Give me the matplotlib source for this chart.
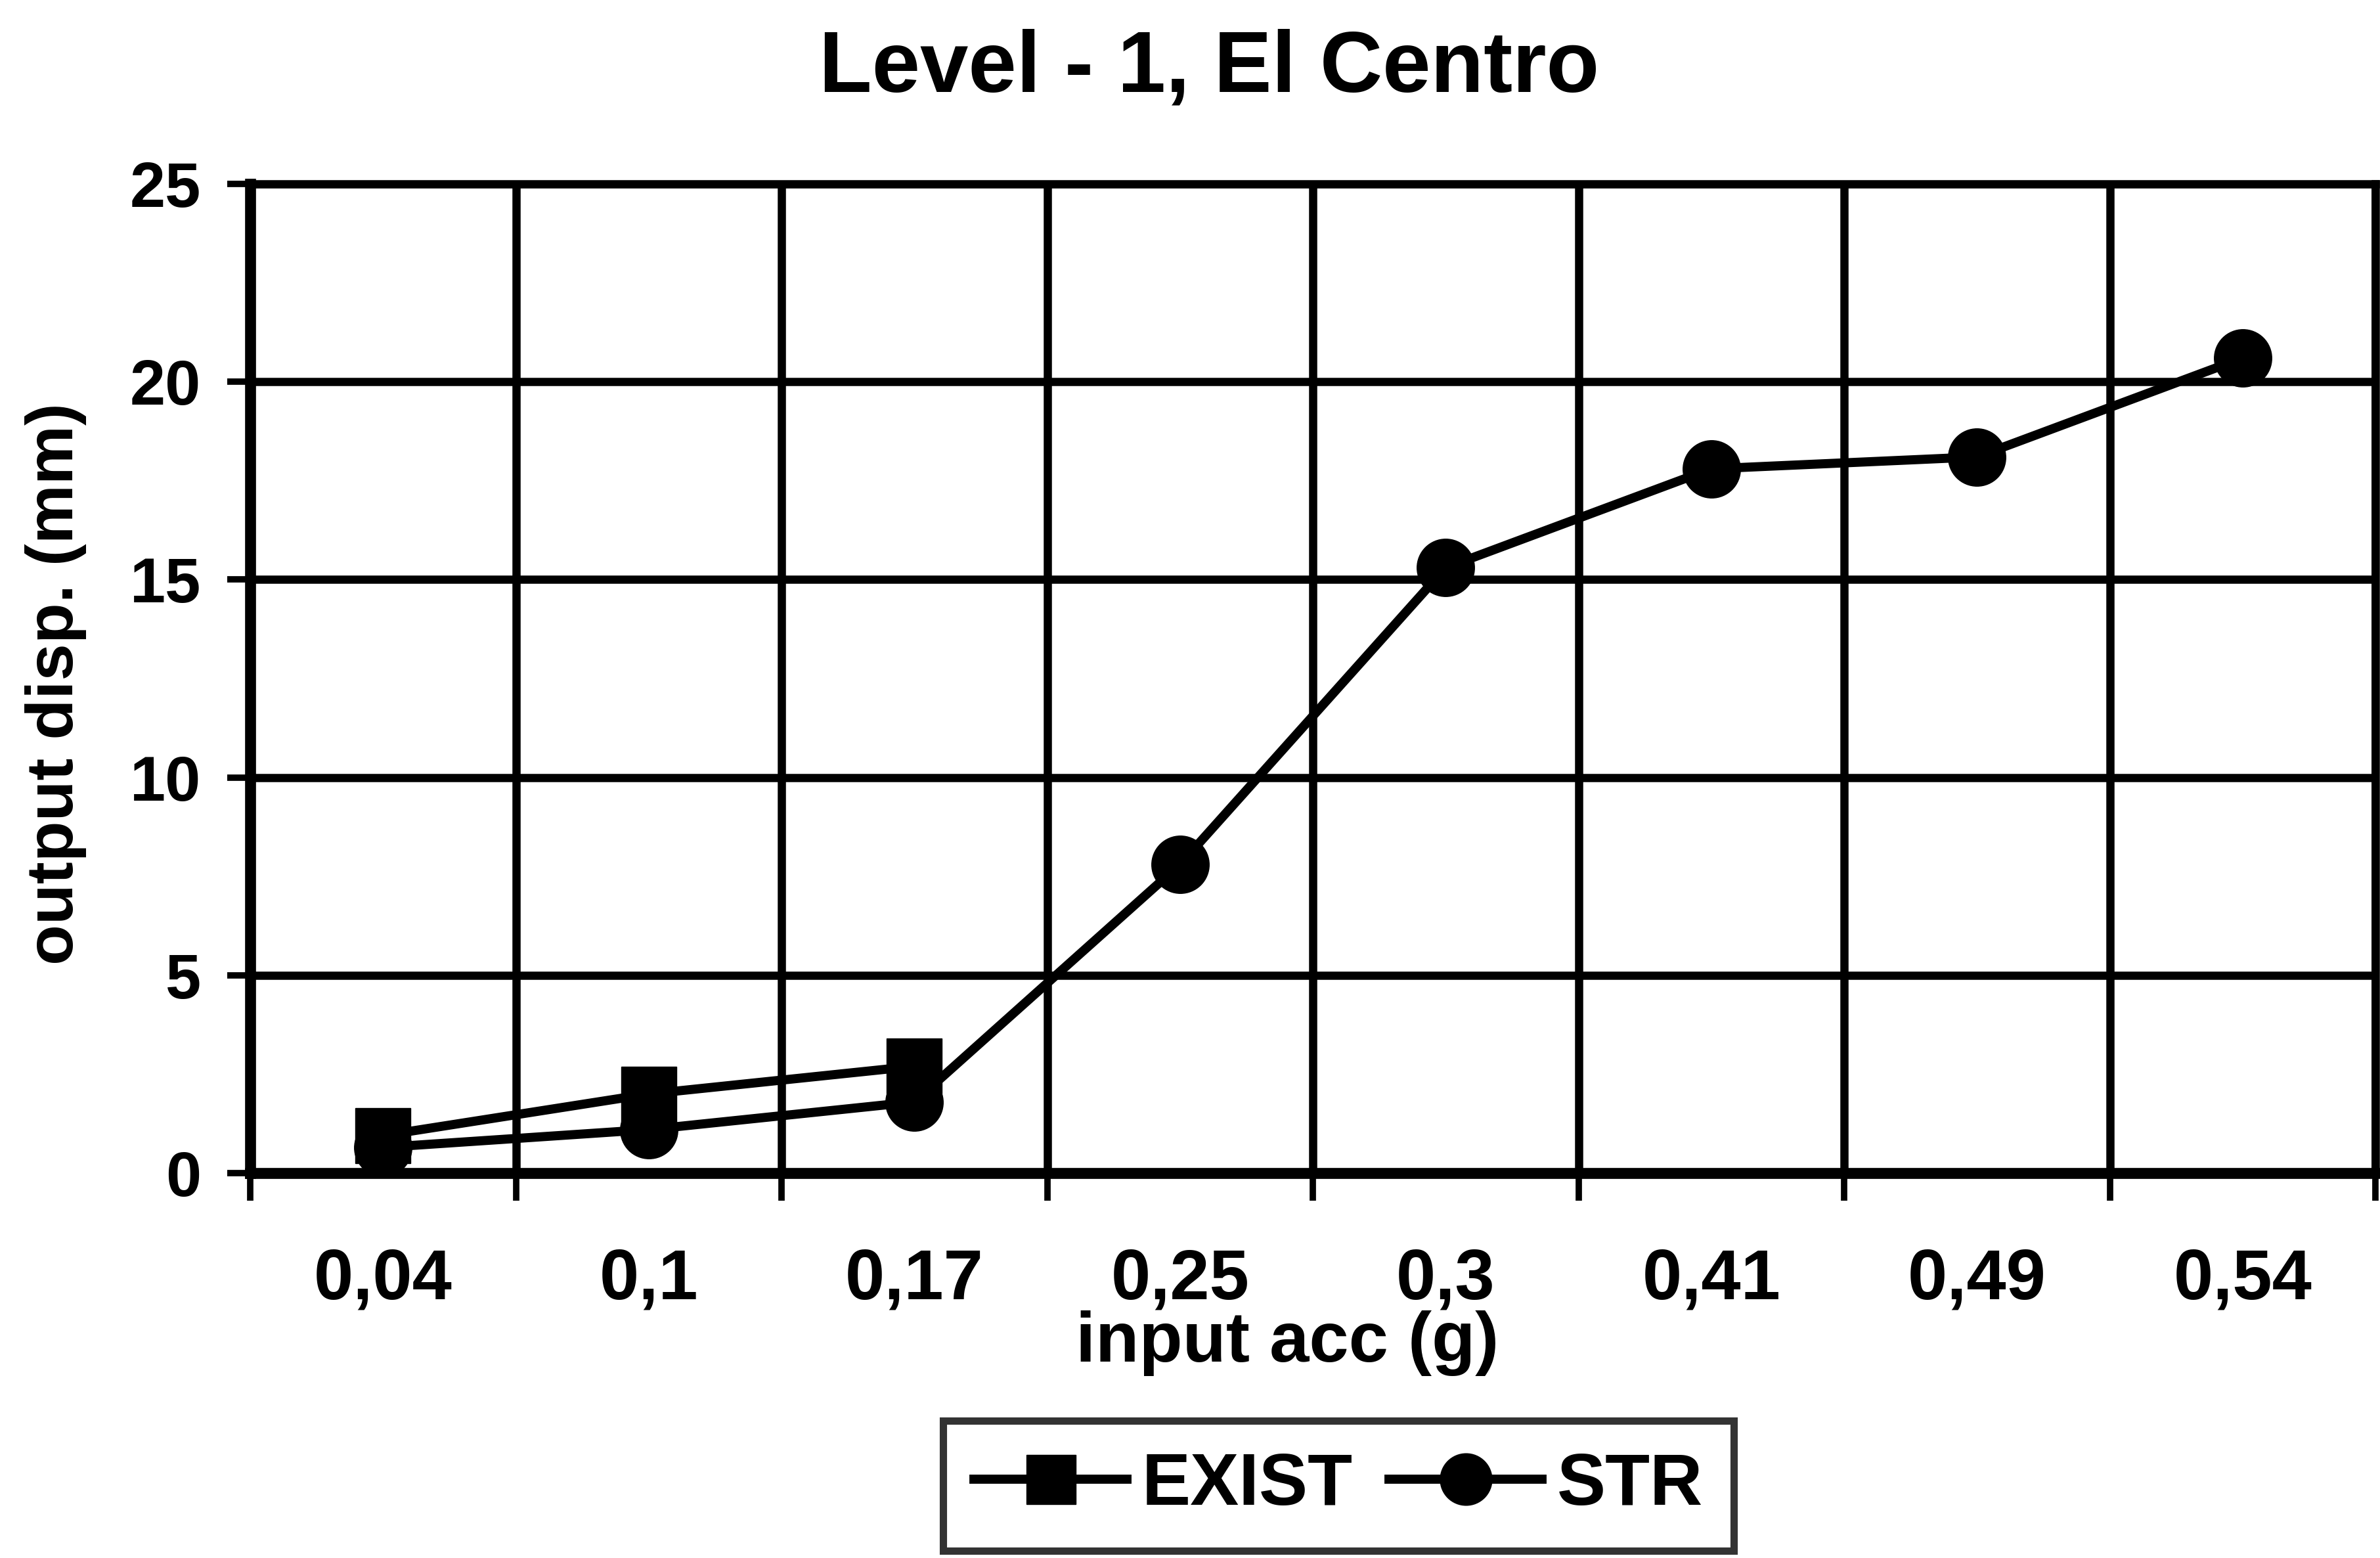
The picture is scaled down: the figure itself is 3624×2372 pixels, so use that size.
import matplotlib
matplotlib.use("Agg")
import matplotlib.pyplot as plt
import numpy as np

categories = ["0,04", "0,1", "0,17", "0,25", "0,3", "0,41", "0,49", "0,54"]
exist_vals = [0.95, 2.0, 2.7]
str_vals = [0.65, 1.1, 1.8, 7.8, 15.3, 17.8, 18.1, 20.6]
y_ticks = [0, 5, 10, 15, 20, 25]

plt.rcParams['font.family'] = ['Liberation Sans', 'DejaVu Sans']
plt.rcParams['font.weight'] = 'bold'

W, H = 3624, 2372
fig = plt.figure(figsize=(W / 100, H / 100), dpi=100)
ax = fig.add_axes([381 / W, 1 - 1786 / H, (3617 - 381) / W, (1786 - 280) / H])

x = np.arange(len(categories))
ax.plot(x[:len(exist_vals)], exist_vals, color='black', lw=10, marker='s',
        markersize=60, markerfacecolor='black', markeredgecolor='black',
        label='EXIST', zorder=4)
ax.plot(x, str_vals, color='black', lw=10, marker='o', markersize=63,
        markerfacecolor='black', markeredgecolor='black', label='STR', zorder=5)

ax.set_xlim(-0.5, len(categories) - 0.5)
ax.set_ylim(0, 25)
ax.set_yticks(y_ticks)
ax.set_yticklabels([str(v) for v in y_ticks], fontsize=70, fontweight='bold')
ax.set_xticks(x)
ax.set_xticklabels(categories, fontsize=78, fontweight='bold')
ax.set_xticks(np.arange(len(categories) + 1) - 0.5, minor=True)

ax.tick_params(axis='x', which='major', length=0, pad=82)
ax.tick_params(axis='x', which='minor', length=30, width=7, direction='out')
ax.tick_params(axis='y', which='major', length=25, width=7, direction='out', pad=29)

ax.grid(True, axis='y', which='major', color='black', lw=9)
ax.grid(True, axis='x', which='minor', color='black', lw=9)
ax.set_axisbelow(True)

for side in ['left', 'bottom']:
    ax.spines[side].set_linewidth(12)
for side in ['top', 'right']:
    ax.spines[side].set_linewidth(9)

fig.text(1841 / W, 1 - 140 / H, "Level - 1, El Centro", fontsize=95,
         fontweight='bold', ha='center', va='baseline')
fig.text(1960 / W, 1 - 2073 / H, "input acc (g)", fontsize=78,
         fontweight='bold', ha='center', va='baseline')
fig.text(85 / W, 1 - 1041 / H, "output disp. (mm)", fontsize=73,
         fontweight='bold', ha='center', va='center', rotation=90)

leg = fig.legend(loc='center', bbox_to_anchor=(2038 / W, 1 - 2262 / H), ncol=2,
                 fontsize=80, frameon=True, fancybox=False, edgecolor='black',
                 handlelength=2.1, handletextpad=0.2, columnspacing=0.5,
                 borderpad=0.42, borderaxespad=0, markerscale=0.9)
leg.get_frame().set_linewidth(8)
for t in leg.get_texts():
    t.set_fontweight('bold')

fig.savefig("out.png", dpi=100, facecolor='white')
